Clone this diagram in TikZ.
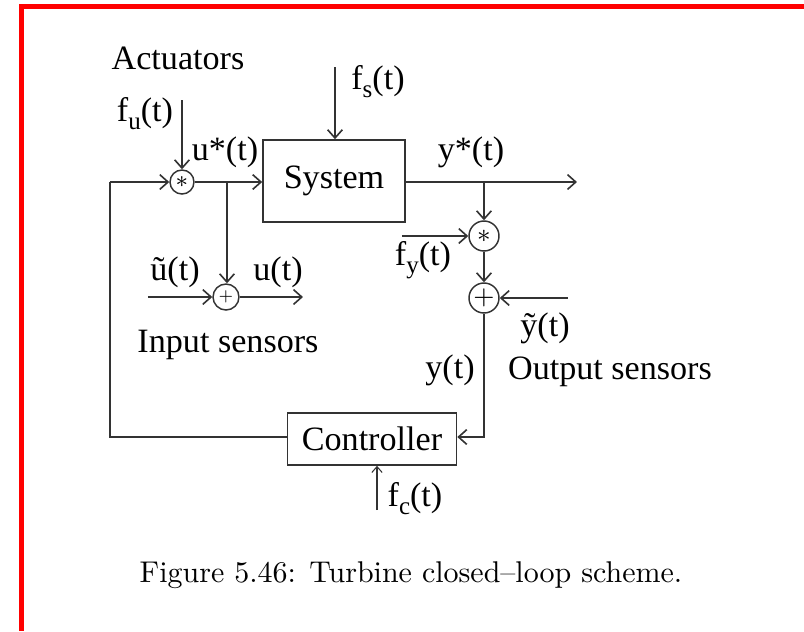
\documentclass[tikz,border=0pt]{standalone}
\usepackage{fontspec}
\newfontfamily\timesfont{Liberation Serif}
\usetikzlibrary{arrows.meta,positioning}
\tikzset{>={Straight Barb[length=2.8pt,width=5pt]}}
\tikzset{
  sig/.style={draw=black!80, line width=0.55pt},
  block/.style={draw=black!80, line width=0.55pt, inner sep=0pt,
    font=\timesfont\fontsize{11.6}{13}\selectfont},
  junc/.style={draw=black!80, line width=0.5pt, circle, inner sep=0pt},
  lbl/.style={inner sep=0pt, font=\timesfont\fontsize{11.6}{13}\selectfont}
}
\newcommand*{\jsym}[1]{\fontsize{#1}{#1}\selectfont}
\newcommand*{\lsub}[1]{\raisebox{-0.5ex}{\fontsize{8.5}{8.5}\selectfont #1}}

\begin{document}
\begin{tikzpicture}[x=0.34pt,y=-0.34pt]
\useasboundingbox (0,0) rectangle (804,631);
% frame
\draw[red, line width=1.7pt] (21.5,631) -- (21.5,6.5) -- (804,6.5);

% blocks
\node[block, minimum width=142*0.34pt, minimum height=82*0.34pt] (sys) at (334,181) {System};
\node[block, minimum width=169*0.34pt, minimum height=52*0.34pt] (ctrl) at (372,439) {Controller};

% junctions
\node[junc, minimum size=24*0.34pt] (act) at (182,182) {\jsym{8}$\ast$};
\node[junc, minimum size=26*0.34pt] (ins) at (226,297) {\jsym{5}$+$};
\node[junc, minimum size=30*0.34pt] (ofs) at (484,236) {\jsym{9}$\ast$};
\node[junc, minimum size=30*0.34pt] (ons) at (484,298) {\jsym{9}$+$};

% free ends
\coordinate (fsin) at (335,67);
\coordinate (fuin) at (182,100);
\coordinate (ubr) at (227,182);
\coordinate (utin) at (148,297);
\coordinate (uout) at (303,297);
\coordinate (fbl) at (110,182);
\coordinate (fbd) at (110,437);
\coordinate (fcin) at (377,510);
\coordinate (ybr) at (484,182);
\coordinate (yout) at (577,182);
\coordinate (fyin) at (402,236);
\coordinate (ytin) at (568,298);
\coordinate (ydn) at (484,437);

% connectors
\draw[sig,->] (fsin) -- (fsin |- sys.north);
\draw[sig,->] (fuin) -- (act);
\draw[sig,->] (act) -- (sys.west |- act);
\draw[sig,->] (ubr) -- (ubr |- ins.north);
\draw[sig,->] (utin) -- (ins);
\draw[sig,->] (ins) -- (uout);
\draw[sig] (ctrl.west |- fbd) -- (fbd) -- (fbl);
\draw[sig,->] (fbl) -- (act);
\draw[sig,->] (sys.east |- yout) -- (yout);
\draw[sig,->] (ybr) -- (ofs);
\draw[sig,->] (fyin) -- (ofs);
\draw[sig,->] (ofs) -- (ons);
\draw[sig,->] (ytin) -- (ons);
\draw[sig,->] (ons) -- (ydn) -- (ctrl.east |- ydn);
\draw[draw=black!80, line width=0.35pt, -{Straight Barb[length=2pt,width=3.5pt]}] (fcin) -- (fcin |- ctrl.south);

% labels
\node[lbl] (actl) at (178,58) {Actuators};
\node[lbl] (fsl) at (378,82) {f\lsub{s}(t)};
\node[lbl] (ful) at (145,114) {f\lsub{u}(t)};
\node[lbl] (usl) at (225,152) {u*(t)};
\node[lbl] (utl) at (175,272) {ũ(t)};
\node[lbl] (ul) at (278,272) {u(t)};
\node[lbl] (insl) at (228,345) {Input sensors};
\node[lbl] (ysl) at (471,152) {y*(t)};
\node[lbl] (fyl) at (423,260) {f\lsub{y}(t)};
\node[lbl] (ytl) at (545,328) {ỹ(t)};
\node[lbl] (yl) at (450,370) {y(t)};
\node[lbl] (osl) at (610,372) {Output sensors};
\node[lbl] (fcl) at (415,499) {f\lsub{c}(t)};

% caption
\node[inner sep=0pt, font=\fontsize{10.2}{12}\selectfont] (cap) at (411,575) {Figure 5.46: Turbine closed--loop scheme.};
\end{tikzpicture}
\end{document}
